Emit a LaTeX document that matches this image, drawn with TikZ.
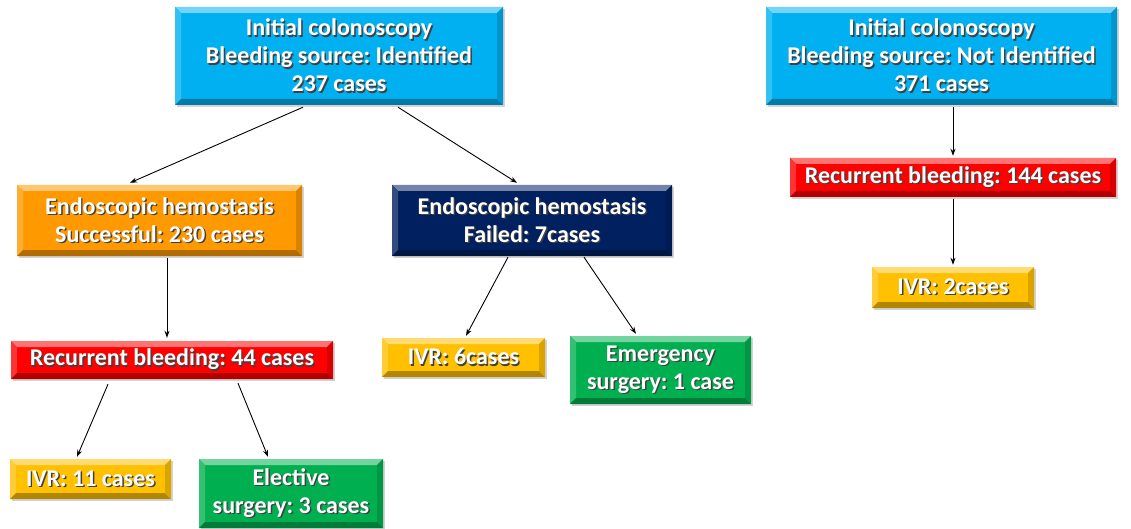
\documentclass[tikz,border=0pt]{standalone}
\usepackage{fontspec}
\setmainfont{Carlito}
\frenchspacing
\usetikzlibrary{shadows,arrows.meta}
\newcommand\ts[1]{\rlap{\hspace{1.4pt}\raisebox{-1.4pt}{\color{black!75}#1}}#1}
\definecolor{cCyan}{HTML}{00B0F0}
\definecolor{cOrange}{HTML}{FF9900}
\definecolor{cNavy}{HTML}{002060}
\definecolor{cRed}{HTML}{FF0000}
\definecolor{cYellow}{HTML}{FFC000}
\definecolor{cGreen}{HTML}{00B050}
\tikzset{
  bx/.style={fill=#1, draw=none, inner sep=0pt, align=center, text=white,
    font=\fontsize{24}{28}\selectfont\bfseries,
    drop shadow={shadow xshift=2pt, shadow yshift=-2pt, opacity=0.35},
    path picture={
      \fill[#1!55!white] (path picture bounding box.north west) -- (path picture bounding box.north east)
        -- ([shift={(-6pt,-6pt)}]path picture bounding box.north east) -- ([shift={(6pt,-6pt)}]path picture bounding box.north west) -- cycle;
      \fill[#1!80!white] (path picture bounding box.north west) -- ([shift={(6pt,-6pt)}]path picture bounding box.north west)
        -- ([shift={(6pt,6pt)}]path picture bounding box.south west) -- (path picture bounding box.south west) -- cycle;
      \fill[#1!70!black] (path picture bounding box.south west) -- ([shift={(6pt,6pt)}]path picture bounding box.south west)
        -- ([shift={(-6pt,6pt)}]path picture bounding box.south east) -- (path picture bounding box.south east) -- cycle;
      \fill[#1!85!black] (path picture bounding box.north east) -- ([shift={(-6pt,-6pt)}]path picture bounding box.north east)
        -- ([shift={(-6pt,6pt)}]path picture bounding box.south east) -- (path picture bounding box.south east) -- cycle;
    }},
  arr/.style={-{Stealth[length=7pt,width=5pt]}, line width=0.9pt, black}
}
\begin{document}
\begin{tikzpicture}[x=1pt,y=-1pt]
\useasboundingbox (0,0) rectangle (1131,529);
\node[bx=cCyan, minimum width=328pt, minimum height=98pt] (top1) at (339,56)
  {\ts{Initial colonoscopy}\\\ts{Bleeding source: Identified}\\\ts{237 cases}};
\node[bx=cCyan, minimum width=351pt, minimum height=98pt] (top2) at (941.5,56)
  {\ts{Initial colonoscopy}\\\ts{Bleeding source: Not Identified}\\\ts{371 cases}};
\node[bx=cOrange, minimum width=285pt, minimum height=71pt] (ok) at (159.5,220.5)
  {\ts{Endoscopic hemostasis}\\\ts{Successful: 230 cases}};
\node[bx=cNavy, minimum width=280pt, minimum height=71pt] (fail) at (532,220.5)
  {\ts{Endoscopic hemostasis}\\\ts{Failed: 7cases}};
\node[bx=cRed, minimum width=326pt, minimum height=39pt] (rr) at (953,177.5)
  {\ts{Recurrent bleeding: 144 cases}};
\node[bx=cYellow, minimum width=162pt, minimum height=41pt] (ivr2) at (953,287.5)
  {\ts{IVR: 2cases}};
\node[bx=cRed, minimum width=322pt, minimum height=38pt] (rl) at (172,360)
  {\ts{Recurrent bleeding: 44 cases}};
\node[bx=cYellow, minimum width=163pt, minimum height=39pt] (ivr6) at (463.5,357.5)
  {\ts{IVR: 6cases}};
\node[bx=cGreen, minimum width=181pt, minimum height=68pt] (emg) at (660.5,370)
  {\ts{Emergency}\\\ts{surgery: 1 case}};
\node[bx=cYellow, minimum width=161pt, minimum height=40pt] (ivr11) at (90.5,479)
  {\ts{IVR: 11 cases}};
\node[bx=cGreen, minimum width=184pt, minimum height=69pt] (ele) at (291,493.5)
  {\ts{Elective}\\\ts{surgery: 3 cases}};

\draw[arr] ([xshift=-36pt,yshift=-2pt]top1.south) -- ([xshift=-29.5pt,yshift=2pt]ok.north);
\draw[arr] ([xshift=59pt,yshift=-2pt]top1.south) -- ([xshift=-15pt,yshift=2pt]fail.north);
\draw[arr] ([xshift=7.5pt,yshift=-2pt]ok.south) -- ([xshift=-5pt,yshift=3pt]rl.north);
\draw[arr] ([xshift=-64pt,yshift=-5pt]rl.south) -- ([xshift=-13.5pt,yshift=2pt]ivr11.north);
\draw[arr] ([xshift=66pt,yshift=-4pt]rl.south) -- ([xshift=-23pt,yshift=2pt]ele.north);
\draw[arr] ([xshift=-24pt,yshift=-1pt]fail.south) -- ([xshift=2.5pt,yshift=2pt]ivr6.north);
\draw[arr] ([xshift=52pt,yshift=-1pt]fail.south) -- ([xshift=-24.5pt,yshift=2pt]emg.north);
\draw[arr] ([xshift=11.5pt,yshift=-2pt]top2.south) -- ([yshift=2pt]rr.north);
\draw[arr] ([yshift=-2pt]rr.south) -- ([yshift=2pt]ivr2.north);
\end{tikzpicture}
\end{document}
